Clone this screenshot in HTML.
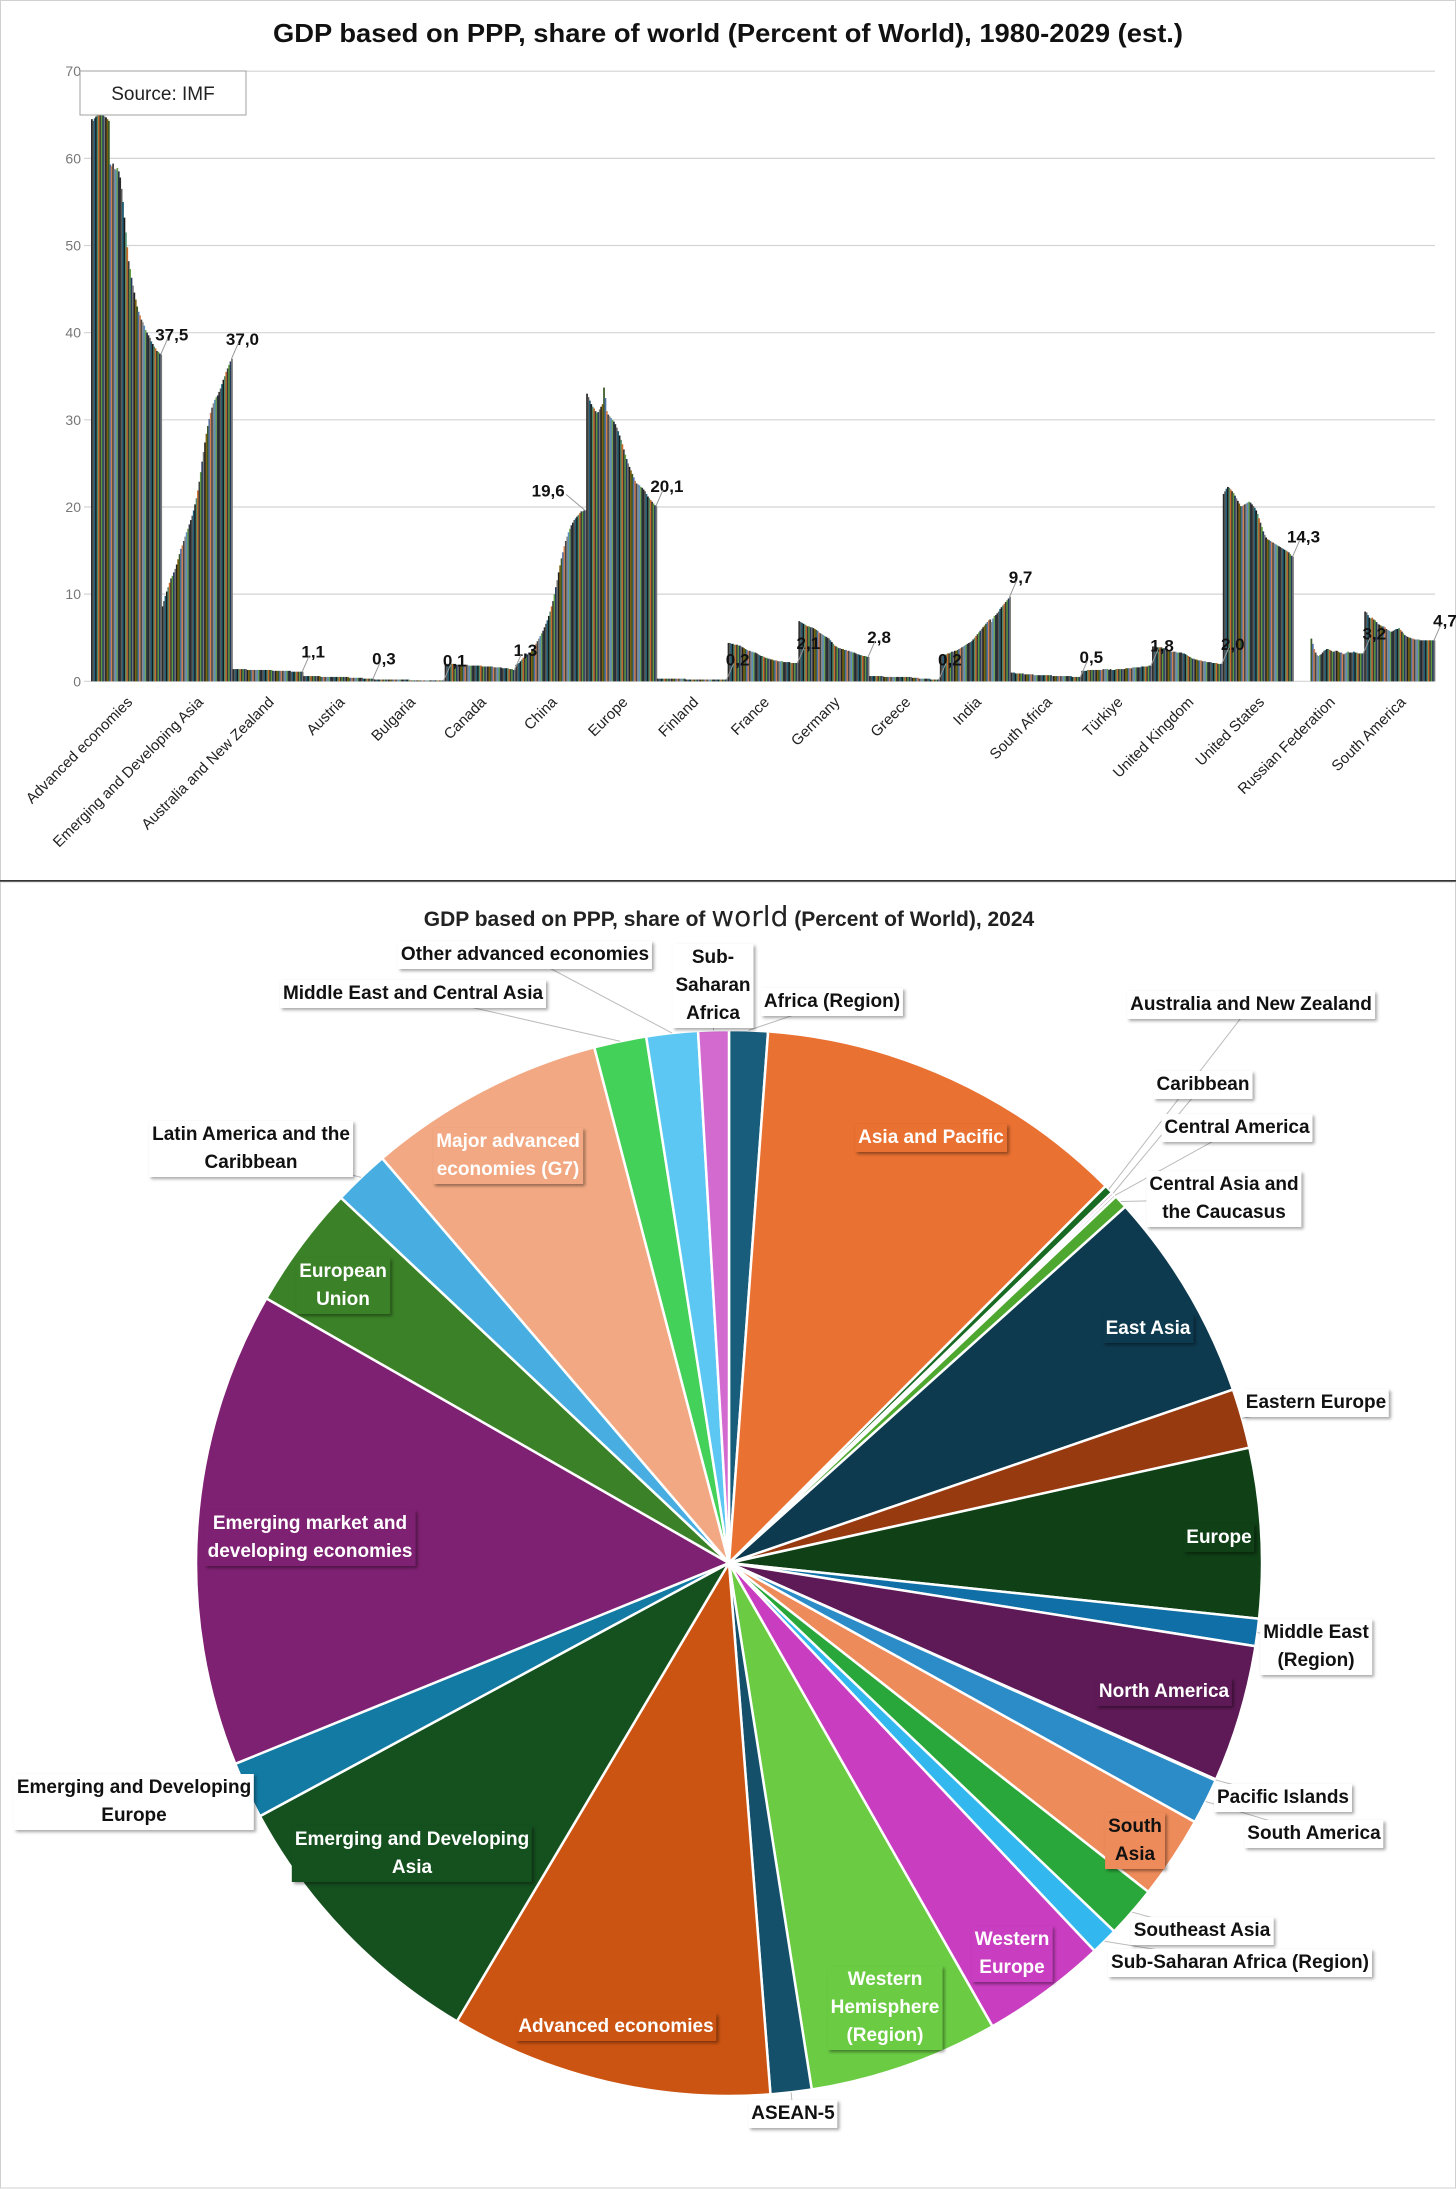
<!DOCTYPE html>
<html><head><meta charset="utf-8"><style>
html,body{margin:0;padding:0;background:#fff;}
#wrap{position:relative;width:1456px;height:2189px;overflow:hidden;font-family:"Liberation Sans",sans-serif;}
svg{position:absolute;left:0;top:0;}
.lbl{position:absolute;font-weight:bold;font-size:19px;line-height:28px;text-align:center;white-space:nowrap;padding:0 3px;transform:translate(-50%,-50%);}
.out{background:#fff;color:#111;box-shadow:2px 2px 3px rgba(0,0,0,.35);}
.in{color:#fff;box-shadow:2px 2px 3px rgba(0,0,0,.4);}
</style></head><body>
<div id="wrap">
<svg id="svg" width="1456" height="2189"></svg>
</div>
<script>
const categories=["Advanced economies","Emerging and Developing Asia","Australia and New Zealand","Austria","Bulgaria","Canada","China","Europe","Finland","France","Germany","Greece","India","South Africa","Türkiye","United Kingdom","United States","Russian Federation","South America"];
const adv=[64.5,64.3,64.6,64.8,65,65.2,65.1,65,64.9,64.8,64.7,64.5,64.3,59.3,59.1,59.4,58.8,58.7,58.9,58.5,57.8,56.5,55,53.2,51.5,49.8,48.2,47.3,46.3,45.4,44.6,43.8,43,42.4,42,41.5,41.2,40.8,40.3,40,39.7,39.4,39,38.7,38.4,38.2,37.9,37.8,37.6,37.5];
const eda=[8.6,9.2,9.8,10.3,10.8,11.3,11.8,12.1,12.5,12.9,13.4,14,14.6,15.2,15.6,16.1,16.6,17.1,17.5,18,18.5,19,19.6,20.3,21,21.9,22.9,24,25.2,26.3,27.4,28.4,29.3,30.1,30.8,31.4,31.9,32.3,32.6,32.8,33.2,33.6,34.1,34.6,35,35.5,35.9,36.3,36.7,37.0];
const anz=[1.4,1.4,1.4,1.4,1.4,1.4,1.4,1.4,1.4,1.4,1.3,1.3,1.3,1.3,1.3,1.3,1.3,1.3,1.3,1.3,1.3,1.3,1.3,1.3,1.3,1.3,1.3,1.3,1.2,1.2,1.2,1.2,1.2,1.2,1.2,1.2,1.2,1.2,1.2,1.2,1.2,1.1,1.1,1.1,1.1,1.1,1.1,1.1,1.1,1.1];
const austria=[0.6,0.6,0.6,0.6,0.6,0.6,0.6,0.6,0.6,0.6,0.6,0.6,0.5,0.5,0.5,0.5,0.5,0.5,0.5,0.5,0.5,0.5,0.5,0.5,0.5,0.5,0.5,0.5,0.5,0.5,0.5,0.5,0.4,0.4,0.4,0.4,0.4,0.4,0.4,0.4,0.4,0.4,0.3,0.3,0.3,0.3,0.3,0.3,0.3,0.3];
const bulgaria=[0.2,0.2,0.2,0.2,0.2,0.2,0.2,0.2,0.2,0.2,0.2,0.2,0.2,0.2,0.2,0.2,0.2,0.2,0.2,0.2,0.2,0.2,0.2,0.2,0.2,0.1,0.1,0.1,0.1,0.1,0.1,0.1,0.1,0.1,0.1,0.1,0.1,0.1,0.1,0.1,0.1,0.1,0.1,0.1,0.1,0.1,0.1,0.1,0.1,0.1];
const canada=[2.0,2.0,2.0,2.0,2.0,2.0,2.0,2.0,1.9,1.9,1.9,1.9,1.9,1.9,1.9,1.9,1.8,1.8,1.8,1.8,1.8,1.8,1.8,1.8,1.8,1.8,1.7,1.7,1.7,1.7,1.7,1.7,1.7,1.7,1.6,1.6,1.6,1.6,1.6,1.6,1.5,1.5,1.5,1.5,1.5,1.4,1.4,1.4,1.3,1.3];
const china=[1.9,2,2.1,2.3,2.5,2.7,2.9,3,3.1,3.2,3.3,3.5,3.7,4,4.3,4.6,4.9,5.2,5.5,5.8,6.2,6.6,7,7.5,8,8.6,9.2,10,10.8,11.6,12.5,13.3,14.1,14.8,15.5,16.1,16.6,17.1,17.5,17.9,18.2,18.5,18.7,18.9,19.1,19.3,19.5,19.5,19.6,19.6];
const europe=[33,32.6,32.2,31.8,31.5,31.3,31,30.8,30.9,31.2,31.5,31.8,33.7,32.5,31,30.6,30.4,30.2,30,29.8,29.5,29.1,28.7,28.2,27.7,27.2,26.6,26,25.5,25,24.6,24.2,23.8,23.4,23,22.7,22.6,22.5,22.3,22.2,22,21.8,21.5,21.2,21,20.8,20.6,20.4,20.2,20.1];
const finland=[0.3,0.3,0.3,0.3,0.3,0.3,0.3,0.3,0.3,0.3,0.3,0.3,0.3,0.3,0.3,0.3,0.3,0.3,0.3,0.3,0.2,0.2,0.2,0.2,0.2,0.2,0.2,0.2,0.2,0.2,0.2,0.2,0.2,0.2,0.2,0.2,0.2,0.2,0.2,0.2,0.2,0.2,0.2,0.2,0.2,0.2,0.2,0.2,0.2,0.2];
const france=[4.4,4.4,4.3,4.3,4.2,4.2,4.2,4.1,4.1,4.0,3.9,3.8,3.7,3.6,3.5,3.5,3.4,3.4,3.3,3.3,3.2,3.1,3.0,2.9,2.9,2.8,2.7,2.7,2.6,2.6,2.5,2.5,2.4,2.4,2.4,2.3,2.3,2.3,2.3,2.2,2.2,2.2,2.2,2.2,2.1,2.1,2.1,2.1,2.1,2.1];
const germany=[6.9,6.8,6.7,6.6,6.5,6.4,6.3,6.3,6.2,6.2,6.1,6.0,5.9,5.8,5.6,5.5,5.4,5.3,5.2,5.1,5.0,4.9,4.7,4.5,4.3,4.1,4.0,3.9,3.8,3.8,3.7,3.7,3.6,3.6,3.5,3.5,3.4,3.4,3.3,3.3,3.2,3.1,3.1,3.0,3.0,2.9,2.9,2.9,2.8,2.8];
const greece=[0.6,0.6,0.6,0.6,0.6,0.6,0.6,0.6,0.6,0.6,0.5,0.5,0.5,0.5,0.5,0.5,0.5,0.5,0.5,0.5,0.5,0.5,0.5,0.5,0.5,0.5,0.5,0.5,0.5,0.5,0.4,0.4,0.4,0.4,0.4,0.3,0.3,0.3,0.3,0.3,0.3,0.3,0.3,0.2,0.2,0.2,0.2,0.2,0.2,0.2];
const india=[2.8,2.9,3.0,3.0,3.1,3.2,3.2,3.3,3.4,3.4,3.5,3.5,3.6,3.7,3.8,3.9,4.0,4.1,4.2,4.3,4.4,4.5,4.6,4.8,5.0,5.2,5.4,5.6,5.8,6.0,6.2,6.4,6.6,6.8,7.0,7.1,6.8,7.2,7.5,7.6,7.8,8.0,8.3,8.5,8.7,8.9,9.1,9.3,9.5,9.7];
const southAfrica=[1.0,1.0,1.0,0.9,0.9,0.9,0.9,0.9,0.9,0.8,0.8,0.8,0.8,0.8,0.8,0.8,0.7,0.7,0.7,0.7,0.7,0.7,0.7,0.7,0.7,0.7,0.7,0.7,0.7,0.6,0.6,0.6,0.6,0.6,0.6,0.6,0.6,0.6,0.6,0.6,0.6,0.6,0.6,0.5,0.5,0.5,0.5,0.5,0.5,0.5];
const turkiye=[1.2,1.2,1.2,1.2,1.3,1.3,1.3,1.3,1.3,1.3,1.3,1.3,1.3,1.3,1.3,1.4,1.4,1.4,1.4,1.3,1.4,1.3,1.3,1.3,1.4,1.4,1.4,1.4,1.4,1.4,1.4,1.5,1.5,1.5,1.5,1.5,1.6,1.6,1.6,1.6,1.6,1.6,1.7,1.7,1.7,1.7,1.7,1.8,1.8,1.8];
const uk=[4.0,4.0,4.0,3.9,3.9,3.9,3.9,3.8,3.8,3.8,3.7,3.6,3.5,3.4,3.4,3.4,3.4,3.3,3.3,3.3,3.3,3.2,3.2,3.1,3.0,2.9,2.8,2.7,2.6,2.6,2.5,2.5,2.4,2.4,2.4,2.3,2.3,2.3,2.2,2.2,2.2,2.2,2.1,2.1,2.1,2.1,2.0,2.0,2.0,2.0];
const us=[21.5,21.8,22.1,22.3,22.2,22,21.8,21.6,21.3,21,20.7,20.4,20.1,20.1,20.2,20.3,20.4,20.5,20.6,20.5,20.3,20.1,19.9,19.6,19.2,18.7,18.2,17.7,17.2,16.8,16.5,16.3,16.2,16.1,16,15.9,15.8,15.7,15.6,15.5,15.4,15.3,15.2,15.1,15,14.9,14.8,14.6,14.4,14.3];
const russia=[null,null,null,null,null,null,null,null,null,null,null,null,4.9,4.3,3.7,3.3,3.0,2.9,3.0,3.1,3.3,3.5,3.6,3.7,3.7,3.6,3.5,3.4,3.4,3.5,3.5,3.4,3.3,3.3,3.2,3.1,3.2,3.3,3.4,3.3,3.3,3.3,3.4,3.3,3.3,3.2,3.2,3.2,3.2,3.2];
const southAmerica=[8.0,7.9,7.6,7.3,7.2,7.3,7.1,7.0,6.8,6.6,6.5,6.4,6.3,6.3,6.2,6.0,5.9,5.8,5.7,5.7,5.8,5.9,6.0,6.0,6.1,5.9,5.7,5.5,5.3,5.2,5.1,5.0,5.0,4.9,4.9,4.8,4.8,4.8,4.8,4.7,4.7,4.7,4.7,4.7,4.7,4.7,4.7,4.7,4.7,4.7];
const yTicks=[0,10,20,30,40,50,60,70];
const endLabels=["37,5","37,0","1,1","0,3","0,1","1,3","19,6","20,1","0,2","2,1","2,8","0,2","9,7","0,5","1,8","2,0","14,3","3,2","4,7"];

const pieNames=["Africa (Region)","Asia and Pacific","Australia and New Zealand","Caribbean","Central America","Central Asia and the Caucasus","East Asia","Eastern Europe","Europe","Middle East (Region)","North America","Pacific Islands","South America","South Asia","Southeast Asia","Sub-Saharan Africa (Region)","Western Europe","Western Hemisphere (Region)","ASEAN-5","Advanced economies","Emerging and Developing Asia","Emerging and Developing Europe","Emerging market and developing economies","European Union","Latin America and the Caribbean","Major advanced economies (G7)","Middle East and Central Asia","Other advanced economies","Sub-Saharan Africa"];
const pieValues=[4.8,46.5,1.1,0.35,0.35,1.7,26.2,7.4,21.1,3.4,17.1,0.12,5.7,10.3,6.4,3.4,15.6,23.6,5.1,40.1,35.3,7.1,59.2,15.4,7.0,29.6,6.5,6.4,3.8];
const pieColors=["#185d7c","#e97132","#196b24","#a02b93","#8a8a8a","#4ea72e","#0e3a4f","#983a10","#0f4016","#0f6fa6","#5e1a57","#1f88c4","#2b8cc7","#ee8b5a","#2aa73a","#32b8ee","#c93ec0","#6bcc44","#14506a","#cc5412","#15501f","#127aa3","#7f2172","#3b8127","#48aee2","#f2a983","#43d15a","#5cc7f2","#d36ad0"];

const NS="http://www.w3.org/2000/svg";
const svg=document.getElementById('svg');
function mk(tag,attrs,parent){const e=document.createElementNS(NS,tag);for(const k in attrs)e.setAttribute(k,attrs[k]);(parent||svg).appendChild(e);return e;}

let fr=mk('rect',{x:0.5,y:0.5,width:1455,height:880,fill:'none',stroke:'#d0d0d0'});

let sep=mk('line',{x1:0,y1:881,x2:1456,y2:881,stroke:'#000','stroke-width':1.5});

let fr2=mk('rect',{x:0.5,y:882,width:1455,height:1306,fill:'none',stroke:'#d0d0d0'});


const series=[adv,eda,anz,austria,bulgaria,canada,china,europe,finland,france,germany,greece,india,southAfrica,turkiye,uk,us,russia,southAmerica];
const PL=91,PR=1435,PT=71.2,PB=681.3,YMAX=70;
const y=v=>PB-(v/YMAX)*(PB-PT);
const gw=(PR-PL)/categories.length;
const bw=gw/50;
const x=(g,j)=>PL+g*gw+j*bw;
const barPal=['#2a2a2a','#5a5a5a','#1f5f78','#1a1a1a','#4f8a6a','#c86a2a','#3a3a3a','#5f9a3d','#22395f','#777777','#202020','#7d6010','#3a5a26','#4f6fa8','#d08050','#454545','#888888','#5a8fc0','#6fa050','#2a3444'];

let t=mk('text',{x:728,y:42,'text-anchor':'middle','font-size':26,'font-weight':'bold',fill:'#111','font-family':'Liberation Sans Narrow, Liberation Sans, sans-serif',textLength:910,lengthAdjust:'spacingAndGlyphs'});
t.textContent='GDP based on PPP, share of world (Percent of World), 1980-2029 (est.)';


yTicks.forEach(v=>{
  let l=mk('line',{x1:84,x2:PR,y1:y(v),y2:y(v),stroke:'#d4d4d4','stroke-width':1.2});
  
  let tx=mk('text',{x:81,y:y(v)+5,'text-anchor':'end','font-size':14,fill:'#777','font-family':'Liberation Sans Narrow, Liberation Sans, sans-serif'});
  tx.textContent=v;
  
});

const gBars=mk('g',{});

series.forEach((arr,g)=>{
  arr.forEach((v,j)=>{
    if(v===null)return;
    let r=mk('rect',{x:x(g,j),y:y(v),width:bw+0.35,height:PB-y(v),fill:barPal[j%barPal.length]},gBars);
    
    
  });
  const last=arr[arr.length-1];
  const ex=x(g,50);
  const left=(g===6);
  const lx=left?ex-38:ex+10;
  let lt=mk('text',{x:lx,y:y(last)-14,'text-anchor':'middle','font-size':17,'font-weight':'bold',fill:'#111','font-family':'Liberation Sans Narrow, Liberation Sans, sans-serif'});
  lt.textContent=endLabels[g];
  
  let ll=mk('line',{x1:ex-1,y1:y(last),x2:left?lx+18:lx-4,y2:y(last)-16,stroke:'#999','stroke-width':1});
  
  const cx=PL+g*gw+gw/2+7;
  let xl=mk('text',{x:cx,y:703,'text-anchor':'end','font-size':15,fill:'#222',transform:`rotate(-45 ${cx} 703)`});
  xl.textContent=categories[g];
  
});

let sb=mk('rect',{x:80,y:71,width:166,height:44,fill:'#fff',stroke:'#a0a0a0','stroke-width':1});

let st=mk('text',{x:163,y:100,'text-anchor':'middle','font-size':19,fill:'#222'});
st.textContent='Source: IMF';


const CX=729,CY=1563,R=533;
let pt=mk('text',{x:729,y:926,'text-anchor':'middle','font-size':21,'font-weight':'bold',fill:'#222'});
pt.innerHTML='GDP based on PPP, share of <tspan font-size="28" font-weight="normal" font-family="DejaVu Sans, sans-serif">world</tspan> (Percent of World), 2024';

const total=pieValues.reduce((a,b)=>a+b,0);
const mids=[];
let acc=0;
const gPie=mk('g',{});

pieValues.forEach((v,i)=>{
  const a0=acc/total*2*Math.PI; acc+=v; const a1=acc/total*2*Math.PI;
  const p=a=>[CX+R*Math.sin(a),CY-R*Math.cos(a)];
  const [x0,y0]=p(a0),[x1,y1]=p(a1);
  const large=(a1-a0)>Math.PI?1:0;
  let s=mk('path',{d:`M${CX},${CY} L${x0},${y0} A${R},${R} 0 ${large} 1 ${x1},${y1} Z`,fill:pieColors[i],stroke:'#fff','stroke-width':2.5},gPie);
  
  
  mids.push(p((a0+a1)/2));
});

const labels=[
 [27,'Other advanced economies',525,955,0],[28,'Sub-<br>Saharan<br>Africa',713,986,0],[0,'Africa (Region)',832,1002,0],
 [26,'Middle East and Central Asia',413,994,0],[2,'Australia and New Zealand',1251,1005,0],[3,'Caribbean',1203,1085,0],
 [4,'Central America',1237,1128,0],[5,'Central Asia and<br>the Caucasus',1224,1199,0],[24,'Latin America and the<br>Caribbean',251,1149,0],
 [7,'Eastern Europe',1316,1403,0],[9,'Middle East<br>(Region)',1316,1647,0],[11,'Pacific Islands',1283,1798,0],
 [12,'South America',1314,1834,0],[14,'Southeast Asia',1202,1931,0],[15,'Sub-Saharan Africa (Region)',1240,1963,0],
 [18,'ASEAN-5',793,2114,0],[21,'Emerging and Developing<br>Europe',134,1802,0],
 [1,'Asia and Pacific',931,1138,1],[25,'Major advanced<br>economies (G7)',508,1156,1],[23,'European<br>Union',343,1286,1],
 [6,'East Asia',1148,1329,1],[8,'Europe',1219,1538,1],[22,'Emerging market and<br>developing economies',310,1538,1],
 [10,'North America',1164,1692,1],[13,'South<br>Asia',1135,1841,1],[20,'Emerging and Developing<br>Asia',412,1854,1],
 [16,'Western<br>Europe',1012,1954,1],[19,'Advanced economies',616,2027,1],[17,'Western<br>Hemisphere<br>(Region)',885,2008,1]
];
const wrap=document.getElementById('wrap');
labels.forEach(L=>{
  const [i,txt,lx,ly,inside]=L;
  if(!inside){
    const [mx,my]=mids[i];
    let ln=mk('line',{x1:mx,y1:my,x2:lx,y2:ly,stroke:'#bbb','stroke-width':1});
    
  }
  const d=document.createElement('div');
  d.className='lbl '+(inside?'in':'out');
  d.style.left=lx+'px';d.style.top=ly+'px';
  if(inside){d.style.background=pieColors[i]; if(i===13)d.style.color='#111';}
  d.innerHTML=txt;
  
  
  wrap.appendChild(d);
});
</script>
</body></html>
